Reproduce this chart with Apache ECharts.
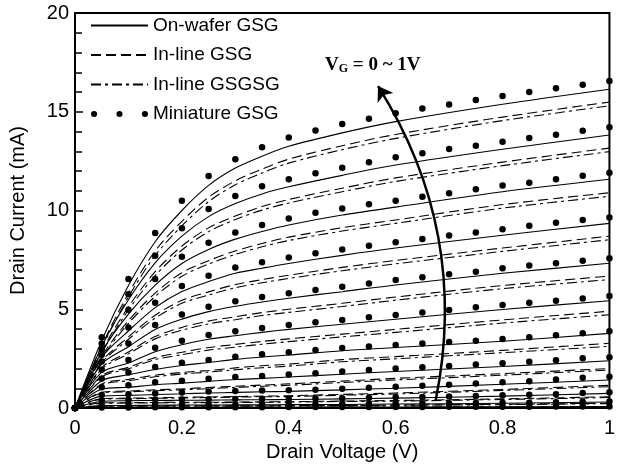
<!DOCTYPE html>
<html>
<head>
<meta charset="utf-8">
<script src="https://cdn.jsdelivr.net/npm/echarts@6/dist/echarts.min.js"></script>
<style>
  html, body { margin: 0; padding: 0; background: #fff; }
  #chart { width: 618px; height: 471px; }
</style>
</head>
<body>
<div id="chart"></div>
<script>
// drain voltage grid for the measured dots and for the drawn curves
var vdDot = [0, 0.05, 0.1, 0.15, 0.2, 0.25, 0.3, 0.35, 0.4, 0.45, 0.5, 0.55, 0.6, 0.65, 0.7, 0.75, 0.8, 0.85, 0.9, 0.95, 1];
var vdLine = [0, 0.05, 0.1, 0.15, 0.2, 0.25, 0.3, 0.35, 0.4, 0.5, 0.6, 0.8, 1];

// one row per gate voltage step, top curve first (mA)
var miniatureGsg = [
  [0, 3.58, 6.53, 8.86, 10.5, 11.75, 12.6, 13.2, 13.7, 14.05, 14.38, 14.65, 14.92, 15.16, 15.37, 15.6, 15.8, 16.0, 16.19, 16.37, 16.56],
  [0, 3.27, 5.76, 7.71, 9.1, 10.08, 10.73, 11.23, 11.58, 11.88, 12.17, 12.44, 12.69, 12.9, 13.11, 13.28, 13.48, 13.67, 13.84, 14.04, 14.21],
  [0, 2.98, 4.98, 6.53, 7.66, 8.37, 8.88, 9.27, 9.6, 9.88, 10.1, 10.32, 10.5, 10.7, 10.87, 11.07, 11.27, 11.41, 11.58, 11.76, 11.91],
  [0, 2.69, 4.08, 5.33, 6.18, 6.7, 7.12, 7.38, 7.62, 7.83, 8.03, 8.22, 8.39, 8.56, 8.73, 8.88, 9.05, 9.23, 9.38, 9.52, 9.65],
  [0, 2.35, 3.26, 4.2, 4.74, 5.13, 5.4, 5.62, 5.81, 5.97, 6.14, 6.31, 6.48, 6.62, 6.77, 6.9, 7.07, 7.21, 7.33, 7.46, 7.58],
  [0, 1.94, 2.43, 3.05, 3.41, 3.7, 3.88, 4.05, 4.2, 4.34, 4.46, 4.59, 4.71, 4.84, 4.96, 5.1, 5.22, 5.33, 5.43, 5.55, 5.67],
  [0, 1.5, 1.8, 2.08, 2.29, 2.43, 2.6, 2.72, 2.82, 2.94, 3.04, 3.12, 3.19, 3.26, 3.34, 3.41, 3.5, 3.58, 3.68, 3.78, 3.88],
  [0, 1.05, 1.15, 1.3, 1.38, 1.48, 1.57, 1.62, 1.7, 1.76, 1.85, 1.93, 2.0, 2.06, 2.13, 2.2, 2.27, 2.34, 2.42, 2.52, 2.57],
  [0, 0.66, 0.7, 0.74, 0.78, 0.83, 0.86, 0.88, 0.9, 0.93, 0.98, 1.03, 1.08, 1.13, 1.18, 1.24, 1.3, 1.36, 1.44, 1.53, 1.58],
  [0, 0.38, 0.41, 0.42, 0.43, 0.44, 0.45, 0.46, 0.47, 0.48, 0.5, 0.52, 0.54, 0.56, 0.58, 0.61, 0.64, 0.67, 0.7, 0.76, 0.8],
  [0, 0.13, 0.15, 0.16, 0.16, 0.17, 0.17, 0.18, 0.18, 0.19, 0.2, 0.21, 0.22, 0.23, 0.24, 0.25, 0.26, 0.27, 0.29, 0.32, 0.33],
  [0, 0.03, 0.03, 0.04, 0.04, 0.04, 0.04, 0.04, 0.05, 0.05, 0.05, 0.05, 0.05, 0.05, 0.06, 0.06, 0.06, 0.06, 0.07, 0.07, 0.07]
];

var onWaferGsg = [
  [0, 3.42, 6.2, 8.42, 10.0, 11.27, 12.15, 12.75, 13.25, 13.93, 14.5, 15.38, 16.14],
  [0, 3.12, 5.48, 7.35, 8.7, 9.69, 10.35, 10.84, 11.2, 11.78, 12.3, 13.1, 13.82],
  [0, 2.84, 4.75, 6.22, 7.32, 8.03, 8.55, 8.94, 9.27, 9.77, 10.17, 10.95, 11.58],
  [0, 2.56, 3.9, 5.08, 5.9, 6.4, 6.82, 7.08, 7.32, 7.73, 8.1, 8.75, 9.35],
  [0, 2.22, 3.1, 3.98, 4.5, 4.88, 5.15, 5.37, 5.56, 5.89, 6.23, 6.82, 7.33],
  [0, 1.8, 2.28, 2.85, 3.2, 3.48, 3.66, 3.83, 3.98, 4.24, 4.49, 4.99, 5.43],
  [0, 1.38, 1.68, 1.95, 2.15, 2.3, 2.46, 2.58, 2.68, 2.9, 3.06, 3.38, 3.78],
  [0, 0.95, 1.05, 1.18, 1.26, 1.35, 1.44, 1.5, 1.57, 1.71, 1.85, 2.1, 2.39],
  [0, 0.6, 0.64, 0.68, 0.72, 0.76, 0.79, 0.82, 0.84, 0.92, 1.0, 1.2, 1.42],
  [0, 0.34, 0.37, 0.38, 0.39, 0.4, 0.41, 0.42, 0.43, 0.46, 0.5, 0.6, 0.74],
  [0, 0.12, 0.13, 0.14, 0.15, 0.15, 0.16, 0.16, 0.17, 0.18, 0.2, 0.24, 0.3],
  [0, 0.02, 0.03, 0.03, 0.03, 0.03, 0.04, 0.04, 0.04, 0.05, 0.05, 0.06, 0.07]
];

var inlineGsg = [
  [0, 3.15, 5.8, 7.95, 9.45, 10.67, 11.5, 12.1, 12.6, 13.28, 13.85, 14.73, 15.49],
  [0, 2.88, 5.12, 6.9, 8.2, 9.12, 9.72, 10.2, 10.56, 11.13, 11.65, 12.45, 13.16],
  [0, 2.62, 4.42, 5.82, 6.85, 7.46, 7.95, 8.33, 8.65, 9.13, 9.52, 10.3, 10.9],
  [0, 2.36, 3.6, 4.7, 5.45, 5.88, 6.25, 6.5, 6.72, 7.12, 7.47, 8.1, 8.7],
  [0, 2.04, 2.84, 3.62, 4.08, 4.4, 4.62, 4.83, 5.0, 5.3, 5.62, 6.2, 6.68],
  [0, 1.64, 2.06, 2.55, 2.82, 3.06, 3.22, 3.37, 3.5, 3.74, 3.98, 4.46, 4.9],
  [0, 1.22, 1.45, 1.66, 1.8, 1.9, 2.03, 2.14, 2.22, 2.45, 2.6, 2.92, 3.28],
  [0, 0.8, 0.86, 0.92, 0.97, 1.04, 1.1, 1.16, 1.22, 1.36, 1.5, 1.74, 2.0],
  [0, 0.48, 0.5, 0.52, 0.54, 0.56, 0.58, 0.6, 0.62, 0.69, 0.76, 0.94, 1.15],
  [0, 0.26, 0.27, 0.28, 0.29, 0.29, 0.3, 0.31, 0.32, 0.35, 0.38, 0.46, 0.57],
  [0, 0.09, 0.1, 0.1, 0.11, 0.11, 0.11, 0.11, 0.12, 0.13, 0.15, 0.19, 0.24],
  [0, 0.02, 0.02, 0.02, 0.03, 0.03, 0.03, 0.03, 0.03, 0.04, 0.04, 0.05, 0.06]
];

var inlineGsgsg = [
  [0, 3.05, 5.62, 7.72, 9.22, 10.45, 11.3, 11.9, 12.4, 13.08, 13.65, 14.55, 15.3],
  [0, 2.78, 4.96, 6.7, 8.0, 8.93, 9.54, 10.02, 10.38, 10.95, 11.47, 12.27, 12.98],
  [0, 2.53, 4.28, 5.65, 6.67, 7.29, 7.78, 8.16, 8.48, 8.96, 9.35, 10.12, 10.72],
  [0, 2.28, 3.48, 4.55, 5.3, 5.72, 6.09, 6.34, 6.56, 6.95, 7.3, 7.93, 8.52],
  [0, 1.97, 2.74, 3.5, 3.94, 4.26, 4.47, 4.68, 4.84, 5.14, 5.46, 6.04, 6.5],
  [0, 1.58, 1.98, 2.45, 2.7, 2.93, 3.08, 3.23, 3.36, 3.6, 3.83, 4.3, 4.72],
  [0, 1.17, 1.38, 1.58, 1.72, 1.82, 1.94, 2.04, 2.12, 2.34, 2.49, 2.8, 3.12],
  [0, 0.76, 0.82, 0.87, 0.92, 0.98, 1.04, 1.1, 1.15, 1.29, 1.42, 1.66, 1.92],
  [0, 0.45, 0.47, 0.49, 0.51, 0.53, 0.55, 0.57, 0.58, 0.65, 0.71, 0.89, 1.08],
  [0, 0.24, 0.25, 0.26, 0.27, 0.27, 0.28, 0.29, 0.3, 0.33, 0.35, 0.43, 0.53],
  [0, 0.08, 0.09, 0.09, 0.1, 0.1, 0.1, 0.1, 0.11, 0.12, 0.14, 0.17, 0.22],
  [0, 0.02, 0.02, 0.02, 0.02, 0.02, 0.03, 0.03, 0.03, 0.03, 0.04, 0.05, 0.05]
];

// the "VG = 0 ~ 1V" arrow, start and end in data units
var arrowPath = [[0.675, 0.4], [0.567, 16.3]];

var seriesNames = ['On-wafer GSG', 'In-line GSG', 'In-line GSGSG', 'Miniature GSG'];

function pairs(xs, ys) {
  return ys.map(function (y, i) { return [xs[i], y]; });
}

var series = [];

function addCurves(name, rows, dash) {
  rows.forEach(function (row) {
    series.push({
      name: name,
      type: 'line',
      data: pairs(vdLine, row),
      smooth: 0.3,
      symbol: 'none',
      itemStyle: { color: '#000' },
      lineStyle: { color: '#000', width: 1.1, type: dash },
      z: 2
    });
  });
}

addCurves(seriesNames[0], onWaferGsg, 'solid');
addCurves(seriesNames[1], inlineGsg, [10, 5]);
addCurves(seriesNames[2], inlineGsgsg, [10, 4, 3, 4]);

miniatureGsg.forEach(function (row) {
  series.push({
    name: seriesNames[3],
    type: 'scatter',
    data: pairs(vdDot, row),
    symbol: 'circle',
    symbolSize: 6.5,
    itemStyle: { color: '#000', opacity: 1 },
    z: 3
  });
});

series.push({
  type: 'lines',
  coordinateSystem: 'cartesian2d',
  data: [{ coords: arrowPath }],
  symbol: ['none', 'arrow'],
  symbolSize: 14,
  lineStyle: { color: '#000', width: 2.5, curveness: -0.2, opacity: 1 },
  silent: true,
  z: 4
});

var chart = echarts.init(document.getElementById('chart'));

var font = 'Liberation Sans, Arial, sans-serif';
var dotsIcon = 'path://M0,3a3,3 0 1 0 6 0a3,3 0 1 0 -6 0zM25,3a3,3 0 1 0 6 0a3,3 0 1 0 -6 0zM50,3a3,3 0 1 0 6 0a3,3 0 1 0 -6 0z';

var option = {
  animation: false,
  backgroundColor: '#fff',
  grid: {
    left: 75, right: 7, top: 13, bottom: 63,
    show: true, borderColor: '#000', borderWidth: 2
  },
  legend: {
    orient: 'vertical',
    left: 90,
    top: 16,
    padding: 0,
    itemWidth: 57,
    itemHeight: 8,
    itemGap: 10.5,
    selectedMode: false,
    lineStyle: { width: 2 },
    itemStyle: { opacity: 0 },
    textStyle: { fontFamily: font, fontSize: 19, color: '#000' },
    data: [
      { name: seriesNames[0] },
      { name: seriesNames[1] },
      { name: seriesNames[2] },
      { name: seriesNames[3], icon: dotsIcon, itemStyle: { opacity: 1, color: '#000' } }
    ]
  },
  xAxis: {
    type: 'value',
    min: 0, max: 1, interval: 0.2,
    name: 'Drain Voltage (V)',
    nameLocation: 'middle',
    nameGap: 33,
    nameTextStyle: { fontFamily: font, fontSize: 20, color: '#000' },
    axisLine: { lineStyle: { color: '#000', width: 2 } },
    axisTick: { show: false },
    axisLabel: { fontFamily: font, fontSize: 20, color: '#000', margin: 10 },
    splitLine: { show: false }
  },
  yAxis: {
    type: 'value',
    min: 0, max: 20, interval: 5,
    name: 'Drain Current (mA)',
    nameLocation: 'middle',
    nameGap: 47,
    nameTextStyle: { fontFamily: font, fontSize: 20, color: '#000' },
    axisLine: { lineStyle: { color: '#000', width: 2 } },
    axisTick: { show: true, inside: true, length: 8, lineStyle: { color: '#000', width: 1.5 } },
    minorTick: { show: true, splitNumber: 5, length: 7, lineStyle: { color: '#000', width: 1.5 } },
    axisLabel: { fontFamily: font, fontSize: 20, color: '#000', margin: 6 },
    splitLine: { show: false }
  },
  graphic: [{
    type: 'text',
    left: 325,
    top: 56,
    style: {
      text: '{a|V}{b|G}{a| = 0 ~ 1V}',
      rich: {
        a: { fontFamily: 'Liberation Serif, Times New Roman, serif', fontWeight: 'bold', fontSize: 19, lineHeight: 20, verticalAlign: 'bottom', fill: '#000' },
        b: { fontFamily: 'Liberation Serif, Times New Roman, serif', fontWeight: 'bold', fontSize: 12, lineHeight: 20, verticalAlign: 'bottom', fill: '#000' }
      }
    }
  }],
  series: series
};

chart.setOption(option);
</script>
</body>
</html>
